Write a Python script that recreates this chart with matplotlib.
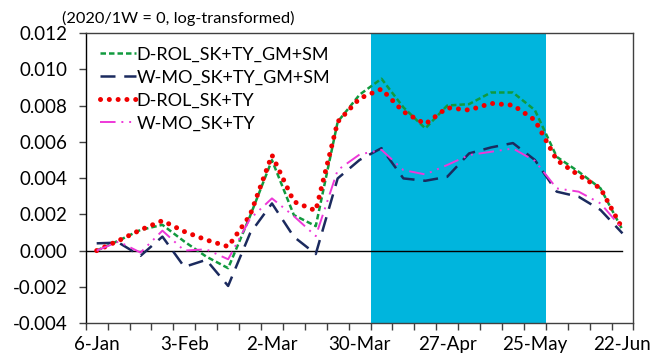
import matplotlib
matplotlib.use("Agg")
import matplotlib.pyplot as plt
import numpy as np

# Weekly index values (2020/1W = 0, log-transformed)
weeks = ["6-Jan", "13-Jan", "20-Jan", "27-Jan", "3-Feb", "10-Feb", "17-Feb", "24-Feb",
         "2-Mar", "9-Mar", "16-Mar", "23-Mar", "30-Mar", "6-Apr", "13-Apr", "20-Apr",
         "27-Apr", "4-May", "11-May", "18-May", "25-May", "1-Jun", "8-Jun", "15-Jun", "22-Jun"]

d_rol_gm_sm = [0.0000, 0.00055, 0.00114, 0.00142, 0.00050, -0.00033, -0.00097, 0.00190,
               0.00499, 0.00196, 0.00135, 0.00710, 0.00860, 0.00948, 0.00790, 0.00674,
               0.00800, 0.00808, 0.00872, 0.00872, 0.00775, 0.00517, 0.00435, 0.00343, 0.00114]
w_mo_gm_sm = [0.00040, 0.00044, -0.00029, 0.00077, -0.00090, -0.00051, -0.00195, 0.00095,
              0.00260, 0.00076, -0.00019, 0.00398, 0.00500, 0.00565, 0.00398, 0.00385,
              0.00407, 0.00536, 0.00569, 0.00593, 0.00500, 0.00325, 0.00297, 0.00224, 0.00095]
d_rol = [0.0000, 0.00055, 0.00114, 0.00165, 0.00105, 0.00059, 0.00022, 0.00195,
         0.00527, 0.00270, 0.00220, 0.00710, 0.00839, 0.00891, 0.00766, 0.00698,
         0.00788, 0.00775, 0.00812, 0.00802, 0.00720, 0.00499, 0.00416, 0.00343, 0.00120]
w_mo = [0.0000, 0.00050, -0.00011, 0.00110, 0.0000, 0.00007, -0.00048, 0.00175,
        0.00288, 0.00190, 0.00080, 0.00444, 0.00530, 0.00556, 0.00444, 0.00420,
        0.00472, 0.00527, 0.00545, 0.00563, 0.00495, 0.00343, 0.00325, 0.00260, 0.00120]

series_labels = ["D-ROL_SK+TY_GM+SM", "W-MO_SK+TY_GM+SM", "D-ROL_SK+TY", "W-MO_SK+TY"]
shade_start, shade_end = "6-Apr", "1-Jun"   # shaded weeks span [6-Apr, 1-Jun)
label_every = 4
yticks = [-0.004, -0.002, 0.000, 0.002, 0.004, 0.006, 0.008, 0.010, 0.012]

plt.rcParams['font.family'] = ['Lato', 'DejaVu Sans']

fig = plt.figure(figsize=(6.51, 3.59), dpi=100)
ax = fig.add_axes([0.1317, 0.100, 0.8413, 0.808])

x = np.arange(len(weeks))

# Shaded period
i0 = weeks.index(shade_start)
i1 = weeks.index(shade_end)
ax.axvspan(i0 - 0.5, i1 - 0.5, color="#00B5DD", lw=0, zorder=0)

# Zero reference line
ax.plot([-0.5, x[-1]], [0, 0], color="black", lw=1.0, zorder=1)

l1, = ax.plot(x, d_rol_gm_sm, color="#119A3E", lw=1.8, ls=(0, (2.2, 1.2)), zorder=3)
l2, = ax.plot(x, w_mo_gm_sm, color="#1B2A5E", lw=1.8, ls=(0, (6, 3.5)), zorder=3)
l3, = ax.plot(x, d_rol, color="#F00000", lw=3.6, ls=(0, (0.01, 1.75)),
              dash_capstyle="round", zorder=4)
l4, = ax.plot(x, w_mo, color="#EE38D8", lw=1.4, ls=(0, (8, 3, 1, 3, 1, 3)), zorder=5)

ax.set_xlim(-0.5, len(weeks) - 0.5)
ax.set_ylim(-0.004, 0.012)

# Category axis: tick marks between weeks, labels centred on weeks
ax.set_xticks(np.arange(len(weeks) + 1) - 0.5)
ax.set_xticklabels([])
ax.tick_params(axis="x", which="major", direction="out", length=5, width=1, color="#404040")
ax.set_xticks(x[::label_every], minor=True)
ax.set_xticklabels(weeks[::label_every], minor=True, fontsize=13.5)
ax.tick_params(axis="x", which="minor", length=0, pad=9)

ax.set_yticks(yticks)
ax.set_yticklabels([f"{v:.3f}" for v in yticks], fontsize=13.5)
ax.tick_params(axis="y", direction="out", length=5, width=1, color="#404040", pad=8)

for s in ax.spines.values():
    s.set_color("#404040")
    s.set_linewidth(1.0)
ax.spines["left"].set_color("black")

leg = ax.legend([l1, l2, l3, l4], series_labels, loc="upper left",
                bbox_to_anchor=(0.006, 0.99), frameon=False, fontsize=13,
                handlelength=2.0, handletextpad=0.05, labelspacing=0.38,
                borderaxespad=0.2)

fig.text(0.096, 0.948, "(2020/1W = 0, log-transformed)", fontsize=11.8, va="center", ha="left")

fig.savefig("out.png", dpi=100)
